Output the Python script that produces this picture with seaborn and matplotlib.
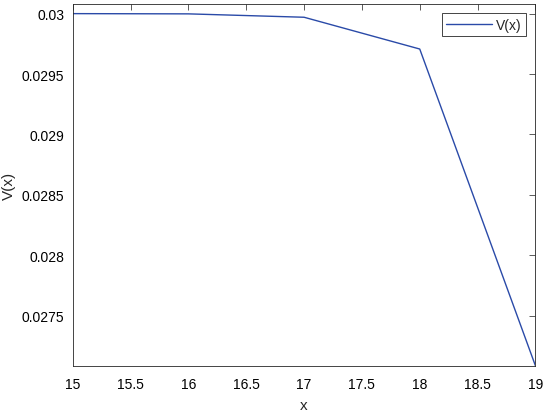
import matplotlib
matplotlib.use("Agg")
import matplotlib.pyplot as plt
import seaborn as sns
import pandas as pd

x_vals = [15, 16, 17, 18, 19]
v_vals = [0.030000, 0.029998, 0.029970, 0.029707, 0.027086]
x_ticks = [15, 15.5, 16, 16.5, 17, 17.5, 18, 18.5, 19]
x_tick_labels = ["15", "15.5", "16", "16.5", "17", "17.5", "18", "18.5", "19"]
y_ticks = [0.0275, 0.028, 0.0285, 0.029, 0.0295, 0.03]
y_tick_labels = ["0.0275", "0.028", "0.0285", "0.029", "0.0295", "0.03"]

sns.set_style("white")
plt.rcParams["font.family"] = ["Liberation Sans", "DejaVu Sans"]

df = pd.DataFrame({"x": x_vals, "V(x)": v_vals})

fig = plt.figure(figsize=(5.43, 4.14), dpi=100)
ax = fig.add_axes([0.134, 0.1143, 0.852, 0.8743])
sns.lineplot(data=df, x="x", y="V(x)", ax=ax, color="#2a4aa8", linewidth=1.0, label="V(x)")

ax.set_xlim(15, 19)
ax.set_ylim(0.027086, 0.030082)
ax.set_xticks(x_ticks)
ax.set_xticklabels(x_tick_labels)
ax.set_yticks(y_ticks)
ax.set_yticklabels(y_tick_labels)
ax.tick_params(axis="both", direction="in", length=4, width=0.6, colors="#404040",
               labelsize=10, labelcolor="black", top=True, right=True, pad=6)
ax.tick_params(axis="x", pad=8)
for s in ax.spines.values():
    s.set_color("#262626")
    s.set_linewidth(0.6)
ax.set_xlabel("x", fontsize=11, labelpad=5)
ax.set_ylabel("V(x)", fontsize=11, labelpad=4)

leg = ax.legend(loc="upper right", fontsize=10, frameon=True, fancybox=False,
                edgecolor="#262626", framealpha=1, borderpad=0.3, handlelength=3.3,
                handletextpad=0.3, borderaxespad=0.7)
leg.get_frame().set_linewidth(0.6)

fig.savefig("out.png", dpi=100)
